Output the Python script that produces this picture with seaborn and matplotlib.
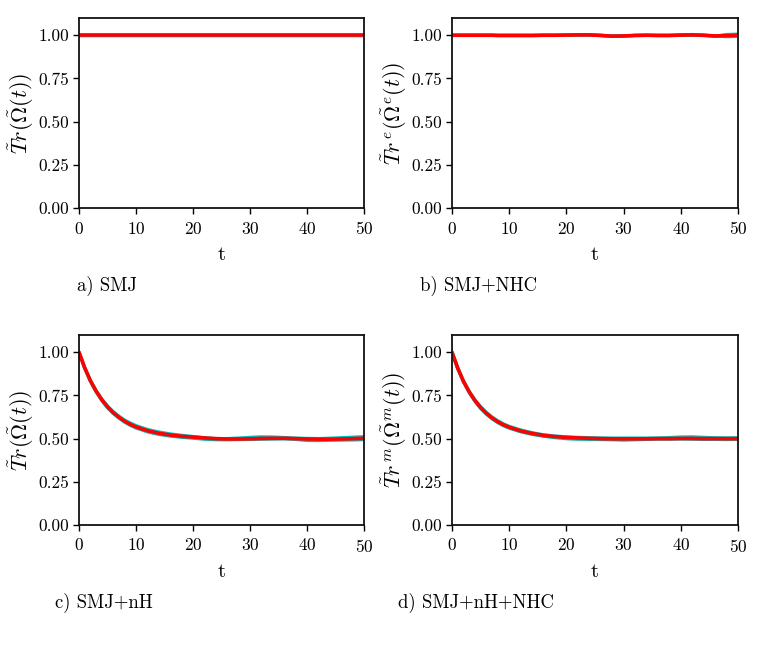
import matplotlib
matplotlib.use('Agg')
import matplotlib.pyplot as plt
import numpy as np
import seaborn as sns

# time grid
t = [0, 1, 2, 3, 4, 5, 6, 7, 8, 9, 10, 12, 14, 16, 18, 20, 22, 24, 26, 28,
     30, 32, 34, 36, 38, 40, 42, 44, 46, 48, 50]

# a) SMJ : trace stays exactly at one
smj_mean = [1.0] * len(t)
smj_runs = [[1.0] * len(t), [1.0] * len(t)]

# b) SMJ+NHC
nhc_mean = [1.000, 1.000, 1.000, 1.000, 1.000, 1.000, 1.000, 1.000, 0.999, 0.999, 0.999,
            0.999, 0.999, 1.000, 1.000, 1.001, 1.002, 1.002, 0.999, 0.995, 0.996,
            0.999, 1.000, 0.999, 0.999, 1.001, 1.002, 1.000, 0.996, 0.998, 1.000]
nhc_runs = [
    [1.000, 1.000, 1.000, 1.000, 1.000, 1.000, 1.000, 1.000, 0.999, 0.999, 0.999,
     0.999, 0.999, 1.000, 1.000, 1.001, 1.002, 1.002, 0.999, 0.995, 0.996,
     0.999, 1.000, 0.999, 0.999, 1.002, 1.004, 1.001, 0.994, 1.004, 1.006],
    [1.000, 1.000, 1.000, 1.000, 1.000, 1.000, 1.000, 1.000, 0.999, 0.999, 0.999,
     0.999, 0.999, 1.000, 1.000, 1.001, 1.002, 1.002, 0.999, 0.995, 0.996,
     0.999, 1.000, 0.999, 0.999, 1.000, 1.000, 0.999, 0.997, 0.992, 0.994],
]

# c) SMJ+nH
nh_mean = [1.000, 0.910, 0.835, 0.775, 0.725, 0.684, 0.651, 0.624, 0.601, 0.583, 0.568,
           0.546, 0.531, 0.521, 0.514, 0.509, 0.504, 0.500, 0.498, 0.498, 0.499,
           0.501, 0.502, 0.502, 0.500, 0.498, 0.497, 0.497, 0.498, 0.500, 0.502]
nh_runs = [
    [1.000, 0.911, 0.837, 0.778, 0.729, 0.689, 0.656, 0.630, 0.607, 0.590, 0.575,
     0.553, 0.538, 0.527, 0.519, 0.512, 0.505, 0.500, 0.500, 0.503, 0.507,
     0.510, 0.509, 0.506, 0.503, 0.501, 0.500, 0.502, 0.505, 0.508, 0.511],
    [1.000, 0.909, 0.833, 0.772, 0.721, 0.679, 0.646, 0.619, 0.596, 0.577, 0.562,
     0.540, 0.525, 0.515, 0.508, 0.503, 0.497, 0.494, 0.494, 0.495, 0.496,
     0.497, 0.498, 0.499, 0.496, 0.490, 0.489, 0.491, 0.492, 0.493, 0.495],
]

# d) SMJ+nH+NHC
nhnhc_mean = [1.000, 0.908, 0.832, 0.771, 0.721, 0.680, 0.647, 0.620, 0.598, 0.580, 0.566,
              0.545, 0.530, 0.519, 0.512, 0.507, 0.504, 0.502, 0.500, 0.499, 0.499,
              0.499, 0.499, 0.500, 0.500, 0.501, 0.501, 0.500, 0.500, 0.500, 0.500]
nhnhc_runs = [
    [1.000, 0.909, 0.834, 0.774, 0.725, 0.685, 0.652, 0.625, 0.603, 0.585, 0.571,
     0.550, 0.534, 0.522, 0.515, 0.510, 0.507, 0.505, 0.504, 0.503, 0.503,
     0.503, 0.503, 0.504, 0.506, 0.509, 0.510, 0.507, 0.505, 0.504, 0.505],
    [1.000, 0.907, 0.830, 0.768, 0.717, 0.675, 0.642, 0.615, 0.593, 0.575, 0.561,
     0.540, 0.525, 0.514, 0.506, 0.500, 0.497, 0.496, 0.495, 0.494, 0.492,
     0.494, 0.496, 0.497, 0.497, 0.498, 0.497, 0.496, 0.496, 0.495, 0.496],
]

panels = [
    (smj_mean, smj_runs, r'$\tilde{T}r(\tilde{\Omega}(t))$', 'a) SMJ'),
    (nhc_mean, nhc_runs, r'$\tilde{T}r^{\,e}(\tilde{\Omega}^{e}(t))$', 'b) SMJ+NHC'),
    (nh_mean, nh_runs, r'$\tilde{T}r(\tilde{\Omega}(t))$', 'c) SMJ+nH'),
    (nhnhc_mean, nhnhc_runs, r'$\tilde{T}r^{\,m}(\tilde{\Omega}^{m}(t))$', 'd) SMJ+nH+NHC'),
]

sns.set_style('ticks')
plt.rcParams['font.family'] = ['cmr10', 'DejaVu Serif']
plt.rcParams['mathtext.fontset'] = 'cm'
plt.rcParams['axes.formatter.use_mathtext'] = True
plt.rcParams['axes.unicode_minus'] = False
plt.rcParams['text.color'] = 'black'
plt.rcParams['axes.labelcolor'] = 'black'
plt.rcParams['xtick.color'] = 'black'
plt.rcParams['ytick.color'] = 'black'

W, H = 763, 653
fig = plt.figure(figsize=(W / 100, H / 100), dpi=100)

# axes boxes in pixels: left, top, right, bottom
boxes = [(79, 18, 364, 208), (452, 18, 738, 208),
         (79, 335, 364, 525), (452, 335, 738, 525)]
captions = [(77, 286), (420, 286), (55, 603), (398, 603)]

for (mean, runs, ylab, cap), (l, tp, r, b), (cx, cy) in zip(panels, boxes, captions):
    ax = fig.add_axes([l / W, 1 - b / H, (r - l) / W, (b - tp) / H])
    for i, run in enumerate(runs):
        sns.lineplot(x=t, y=run, ax=ax, color='c' if i == 0 else '#10b0b0', lw=2.4)
    sns.lineplot(x=t, y=mean, ax=ax, color='red', lw=2.6)
    ax.set_xlim(0, 50)
    ax.set_ylim(0, 1.1)
    ax.set_xticks([0, 10, 20, 30, 40, 50])
    ax.set_yticks([0, 0.25, 0.5, 0.75, 1.0])
    ax.set_yticklabels(['0.00', '0.25', '0.50', '0.75', '1.00'])
    ax.tick_params(labelsize=12.5, direction='out', length=4, width=1)
    ax.tick_params(axis='x', pad=5)
    ax.tick_params(axis='y', pad=3)
    for sp in ax.spines.values():
        sp.set_color('#111111')
        sp.set_linewidth(1.3)
    ax.set_xlabel('t', fontsize=15, labelpad=6)
    ax.set_ylabel(ylab, fontsize=16, labelpad=2)
    fig.text(cx / W, 1 - cy / H, cap, fontsize=13.5, va='center', ha='left')

fig.savefig('out.png', dpi=100)
